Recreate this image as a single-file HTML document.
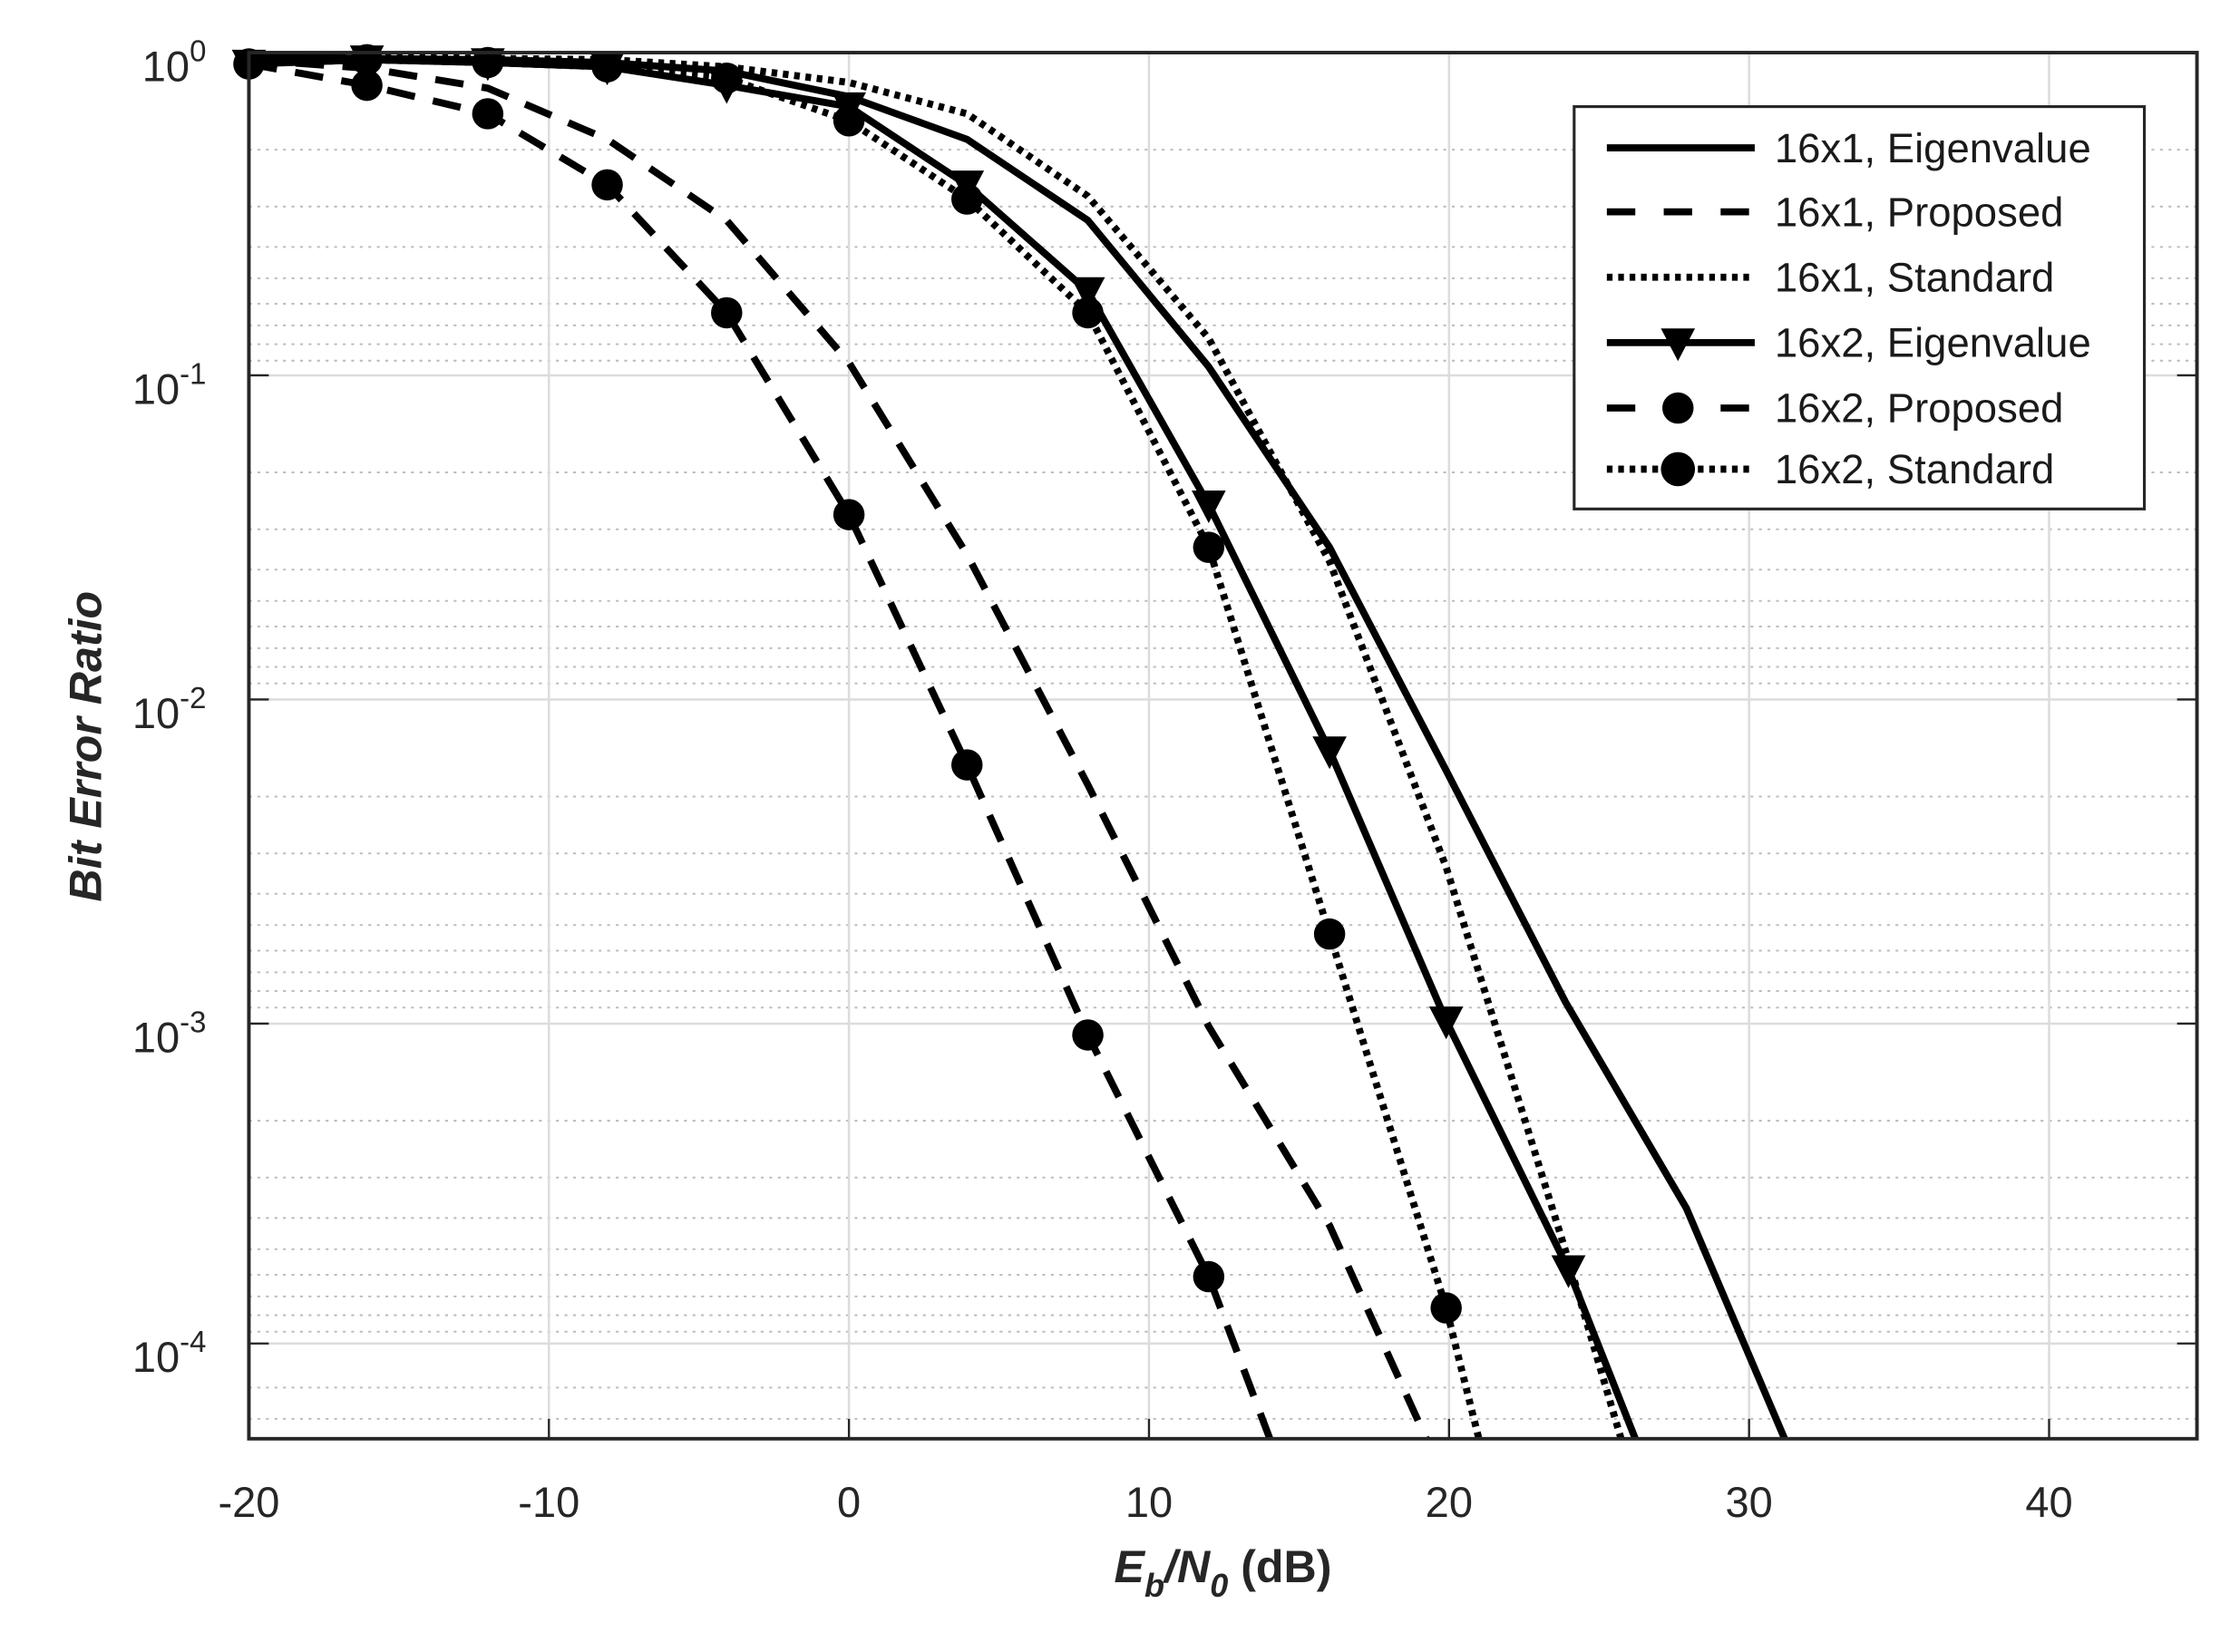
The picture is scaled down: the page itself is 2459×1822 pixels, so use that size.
<!DOCTYPE html>
<html><head><meta charset="utf-8"><style>
html,body{margin:0;padding:0;background:#fff;}
svg{display:block;}
text{font-family:"Liberation Sans",Arial,sans-serif;}
</style></head><body>
<svg width="2459" height="1822" viewBox="0 0 1568.2 1162" xmlns="http://www.w3.org/2000/svg">
<rect width="1568.2" height="1162" fill="#fff"/>
<g id="grid">
<g stroke="#bdbdbd" stroke-width="1.3" stroke-dasharray="2,4">
<line x1="175" x2="1545" y1="105.3" y2="105.3"/><line x1="175" x2="1545" y1="145.3" y2="145.3"/><line x1="175" x2="1545" y1="173.7" y2="173.7"/><line x1="175" x2="1545" y1="195.7" y2="195.7"/><line x1="175" x2="1545" y1="213.7" y2="213.7"/><line x1="175" x2="1545" y1="228.9" y2="228.9"/><line x1="175" x2="1545" y1="242.1" y2="242.1"/><line x1="175" x2="1545" y1="253.7" y2="253.7"/>
<line x1="175" x2="1545" y1="332.3" y2="332.3"/><line x1="175" x2="1545" y1="372.3" y2="372.3"/><line x1="175" x2="1545" y1="400.7" y2="400.7"/><line x1="175" x2="1545" y1="422.7" y2="422.7"/><line x1="175" x2="1545" y1="440.7" y2="440.7"/><line x1="175" x2="1545" y1="455.9" y2="455.9"/><line x1="175" x2="1545" y1="469.1" y2="469.1"/><line x1="175" x2="1545" y1="480.7" y2="480.7"/>
<line x1="175" x2="1545" y1="560.3" y2="560.3"/><line x1="175" x2="1545" y1="600.3" y2="600.3"/><line x1="175" x2="1545" y1="628.7" y2="628.7"/><line x1="175" x2="1545" y1="650.7" y2="650.7"/><line x1="175" x2="1545" y1="668.7" y2="668.7"/><line x1="175" x2="1545" y1="683.9" y2="683.9"/><line x1="175" x2="1545" y1="697.1" y2="697.1"/><line x1="175" x2="1545" y1="708.7" y2="708.7"/>
<line x1="175" x2="1545" y1="788.3" y2="788.3"/><line x1="175" x2="1545" y1="828.3" y2="828.3"/><line x1="175" x2="1545" y1="856.7" y2="856.7"/><line x1="175" x2="1545" y1="878.7" y2="878.7"/><line x1="175" x2="1545" y1="896.7" y2="896.7"/><line x1="175" x2="1545" y1="911.9" y2="911.9"/><line x1="175" x2="1545" y1="925.1" y2="925.1"/><line x1="175" x2="1545" y1="936.7" y2="936.7"/>
<line x1="175" x2="1545" y1="976" y2="976"/><line x1="175" x2="1545" y1="998" y2="998"/>
</g>
<g stroke="#dcdcdc" stroke-width="1.6">
<line x1="175" x2="1545" y1="264" y2="264"/><line x1="175" x2="1545" y1="492" y2="492"/><line x1="175" x2="1545" y1="720" y2="720"/><line x1="175" x2="1545" y1="945" y2="945"/>
<line x1="386" x2="386" y1="37" y2="1012"/><line x1="597" x2="597" y1="37" y2="1012"/><line x1="808" x2="808" y1="37" y2="1012"/><line x1="1019" x2="1019" y1="37" y2="1012"/><line x1="1230" x2="1230" y1="37" y2="1012"/><line x1="1441" x2="1441" y1="37" y2="1012"/>
</g>
</g>
<g stroke="#262626" stroke-width="1.5">
<line x1="386" x2="386" y1="1012" y2="998"/><line x1="597" x2="597" y1="1012" y2="998"/><line x1="808" x2="808" y1="1012" y2="998"/><line x1="1019" x2="1019" y1="1012" y2="998"/><line x1="1230" x2="1230" y1="1012" y2="998"/><line x1="1441" x2="1441" y1="1012" y2="998"/>
<line x1="175" x2="189" y1="264" y2="264"/><line x1="175" x2="189" y1="492" y2="492"/><line x1="175" x2="189" y1="720" y2="720"/><line x1="175" x2="189" y1="945" y2="945"/>
<line x1="1545" x2="1531" y1="264" y2="264"/><line x1="1545" x2="1531" y1="492" y2="492"/><line x1="1545" x2="1531" y1="720" y2="720"/><line x1="1545" x2="1531" y1="945" y2="945"/>
</g>
<g fill="none" stroke="#000" stroke-width="5" stroke-linejoin="round">
<polyline points="175,40 258,41 343,42 427,44 511,50 597,68 680,98 765,155 850,258 935,385 1017,542 1101,705 1186,850 1255,1012"/>
<polyline stroke-dasharray="20,13" points="175,42 258,48 343,62 427,98 511,155 597,255 680,390 765,552 850,722 935,862 1003,1012"/>
<polyline stroke-dasharray="4,4" points="175,40 258,40 343,41 427,42 511,47 597,58 680,80 765,138 850,238 935,395 1017,610 1101,880 1140,1012"/>
<polyline points="175,45 258,42 343,44 427,47 511,60 597,75 680,130 765,205 850,355 935,528 1017,718 1103,893 1150,1012"/>
<polyline stroke-dasharray="20,13" points="175,45 258,60 343,80 427,130 511,220 597,362 680,538 765,728 850,898 893,1012"/>
<polyline stroke-dasharray="4,4" points="175,45 258,42 343,44 427,47 511,55 597,85 680,140 765,220 850,385 935,657 1017,920 1040,1012"/>
</g>
<g fill="#000">
<path d="M163,35h24l-12,23z M246,32h24l-12,23z M331,34h24l-12,23z M415,37h24l-12,23z M499,50h24l-12,23z M585,65h24l-12,23z M668,120h24l-12,23z M753,195h24l-12,23z M838,345h24l-12,23z M923,518h24l-12,23z M1005,708h24l-12,23z M1091,883h24l-12,23z"/>
<circle cx="175" cy="45" r="11"/><circle cx="258" cy="60" r="11"/><circle cx="343" cy="80" r="11"/><circle cx="427" cy="130" r="11"/><circle cx="511" cy="220" r="11"/><circle cx="597" cy="362" r="11"/><circle cx="680" cy="538" r="11"/><circle cx="765" cy="728" r="11"/><circle cx="850" cy="898" r="11"/>
<circle cx="258" cy="42" r="11"/><circle cx="343" cy="44" r="11"/><circle cx="427" cy="47" r="11"/><circle cx="511" cy="55" r="11"/><circle cx="597" cy="85" r="11"/><circle cx="680" cy="140" r="11"/><circle cx="765" cy="220" r="11"/><circle cx="850" cy="385" r="11"/><circle cx="935" cy="657" r="11"/><circle cx="1017" cy="920" r="11"/>
</g>
<rect x="175" y="37" width="1370" height="975" fill="none" stroke="#262626" stroke-width="2.5"/>
<rect x="1107" y="75" width="401" height="283" fill="#fff" stroke="#262626" stroke-width="2"/>
<g stroke="#000" stroke-width="5" fill="none">
<line x1="1130" x2="1234" y1="104" y2="104"/>
<line x1="1130" x2="1234" y1="149" y2="149" stroke-dasharray="20,20"/>
<line x1="1130" x2="1230" y1="195" y2="195" stroke-dasharray="4,4"/>
<line x1="1130" x2="1234" y1="241" y2="241"/>
<line x1="1130" x2="1234" y1="287" y2="287" stroke-dasharray="20,60"/>
<line x1="1130" x2="1230" y1="330" y2="330" stroke-dasharray="4,4"/>
</g>
<path d="M1168,231h24l-12,23z" fill="#000"/>
<circle cx="1180" cy="287" r="11" fill="#000"/>
<circle cx="1180" cy="330" r="12" fill="#000"/>
<g font-size="29" fill="#1a1a1a">
<text x="1248" y="114">16x1, Eigenvalue</text>
<text x="1248" y="159">16x1, Proposed</text>
<text x="1248" y="205">16x1, Standard</text>
<text x="1248" y="251">16x2, Eigenvalue</text>
<text x="1248" y="297">16x2, Proposed</text>
<text x="1248" y="340">16x2, Standard</text>
</g>
<g font-size="30" fill="#262626" text-anchor="middle">
<text x="175" y="1067">-20</text><text x="386" y="1067">-10</text><text x="597" y="1067">0</text><text x="808" y="1067">10</text><text x="1019" y="1067">20</text><text x="1230" y="1067">30</text><text x="1441" y="1067">40</text>
</g>
<g font-size="30" fill="#262626" text-anchor="end">
<text x="145" y="57">10<tspan font-size="21" dy="-14">0</tspan></text>
<text x="145" y="284">10<tspan font-size="21" dy="-14">-1</tspan></text>
<text x="145" y="512">10<tspan font-size="21" dy="-14">-2</tspan></text>
<text x="145" y="740">10<tspan font-size="21" dy="-14">-3</tspan></text>
<text x="145" y="965">10<tspan font-size="21" dy="-14">-4</tspan></text>
</g>
<text x="860" y="1113" font-size="32" font-weight="bold" fill="#262626" text-anchor="middle"><tspan font-style="italic">E</tspan><tspan font-style="italic" font-size="23" dy="10">b</tspan><tspan font-style="italic" dy="-10">/N</tspan><tspan font-style="italic" font-size="23" dy="10">0</tspan><tspan dy="-10"> (dB)</tspan></text>
<text transform="translate(71,525) rotate(-90)" font-size="32" font-weight="bold" font-style="italic" fill="#262626" text-anchor="middle">Bit Error Ratio</text>
</svg>
</body></html>
